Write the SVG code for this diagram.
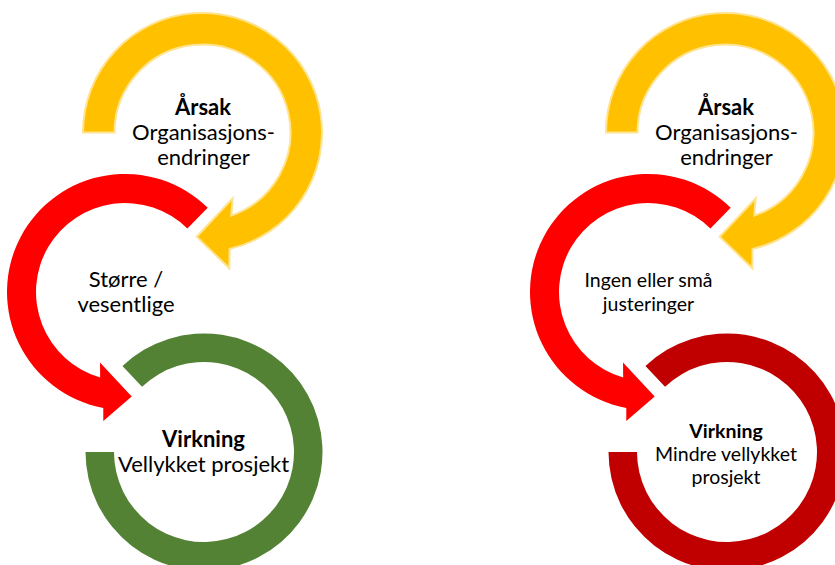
<svg xmlns="http://www.w3.org/2000/svg" xmlns:xlink="http://www.w3.org/1999/xlink" width="835" height="565" viewBox="0 0 835 565">
  <style>
    .cause { fill: #FFC000; stroke: #FFE38F; stroke-width: 2; stroke-linejoin: miter; }
    .change { fill: #FF0000; }
    .good { fill: #548235; }
    .bad { fill: #C00000; }
    text { font-family: Lato, "Noto Sans", "DejaVu Sans", sans-serif; fill: #000; text-anchor: middle; }
    .t { font-size: 22px; }
    .s { font-size: 19.5px; }
    .b { font-weight: bold; }
  </style>
  <defs>
    <!-- clockwise arrow from the left, over the top, ending with a head pointing down-left -->
    <path id="arrow-cause" d="M83,132.5 A119.5,119.5 0 1 1 229.59,248.89 L229.3,268.3 L196.7,236.7 L232.7,198.3 L231.29,215.65 A88,88 0 1 0 114.5,132.5 Z"/>
    <!-- counter-clockwise arrow from the upper right, around the left side, head pointing right -->
    <path id="arrow-change" d="M207.71,207.83 A118,118 0 1 0 103.29,407.98 L103.3,421 L131.7,396.5 L100,362.5 L100.17,377.47 A89,89 0 1 1 187.38,228.52 Z"/>
    <!-- open ring, gap at the upper left -->
    <path id="ring-effect" d="M85.5,452 A118.5,118.5 0 1 0 122.42,366.04 L142.04,386.71 A90,90 0 1 1 114,452 Z"/>
  </defs>

  <!-- left chain: large changes, successful project -->
  <g id="left-cause">
    <use xlink:href="#arrow-cause" href="#arrow-cause" class="cause"/>
    <text class="t b" x="203" y="115">Årsak</text>
    <text class="t" x="203.5" y="140">Organisasjons-</text>
    <text class="t" x="203.5" y="165">endringer</text>
  </g>
  <g id="left-change">
    <use xlink:href="#arrow-change" href="#arrow-change" class="change"/>
    <text class="t" x="126" y="287">Større /</text>
    <text class="t" x="126" y="312">vesentlige</text>
  </g>
  <g id="left-effect">
    <use xlink:href="#ring-effect" href="#ring-effect" class="good"/>
    <text class="t b" x="203.5" y="447">Virkning</text>
    <text class="t" x="203.5" y="472">Vellykket prosjekt</text>
  </g>

  <!-- right chain: no or small adjustments, less successful project -->
  <g id="right-cause" transform="translate(523,0)">
    <use xlink:href="#arrow-cause" href="#arrow-cause" class="cause"/>
    <text class="t b" x="203" y="115">Årsak</text>
    <text class="t" x="203.5" y="140">Organisasjons-</text>
    <text class="t" x="203.5" y="165">endringer</text>
  </g>
  <g id="right-change" transform="translate(523,0)">
    <use xlink:href="#arrow-change" href="#arrow-change" class="change"/>
    <text class="s" x="125.5" y="287">Ingen eller små</text>
    <text class="s" x="125.5" y="311">justeringer</text>
  </g>
  <g id="right-effect" transform="translate(523,0)">
    <use xlink:href="#ring-effect" href="#ring-effect" class="bad"/>
    <text class="s b" x="203" y="438">Virkning</text>
    <text class="s" x="203" y="460.5">Mindre vellykket</text>
    <text class="s" x="203" y="483.5">prosjekt</text>
  </g>
</svg>
